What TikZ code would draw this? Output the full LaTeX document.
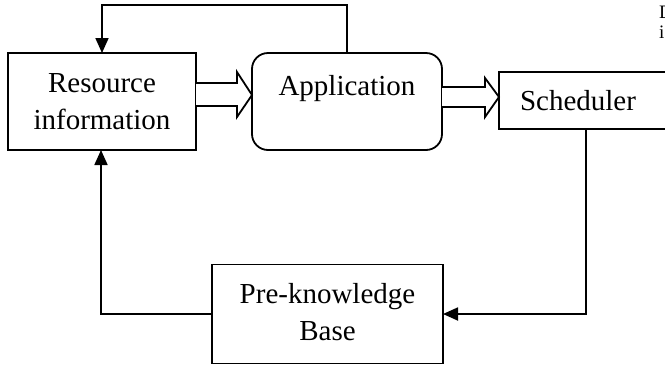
\documentclass[tikz,border=0pt]{standalone}
\usepackage{fontspec}
\setmainfont{Liberation Serif}
\usetikzlibrary{arrows.meta,calc}
\begin{document}
\begin{tikzpicture}[x=1pt,y=-1pt,
  every node/.style={inner sep=0pt,outer sep=0pt},
  box/.style={draw,line width=1.8pt,rectangle},
  rbox/.style={draw,line width=1.8pt,rectangle,rounded corners=16pt},
  lbl/.style={font=\fontsize{29}{37}\selectfont,align=center},
  conn/.style={line width=1.8pt,-{Triangle[length=15pt,width=13pt]}},
  hollow/.style={line width=1.8pt,fill=white,line join=miter}]
\useasboundingbox (0,0) rectangle (665,365);
\clip (0,0) rectangle (665,365);
% nodes
\node[box,minimum width=188pt,minimum height=97pt] (res) at (102,101.5) {};
\node[lbl] (restxt) at (102,101.5) {Resource\\information};
\node[rbox,minimum width=190pt,minimum height=97pt] (app) at (347,101.5) {};
\node[lbl,anchor=base] (apptxt) at (347,95) {Application};
\node[box,minimum width=220pt,minimum height=57pt,anchor=west] (sched) at (499,100.5) {};
\node[lbl,anchor=base] (schedtxt) at (578,110) {Scheduler};
\node[box,minimum width=231pt,minimum height=99pt] (pk) at (327.5,314) {};
\node[lbl] (pktxt) at (327.5,312) {Pre-knowledge\\Base};
\node[font=\fontsize{19}{19}\selectfont,anchor=base west] (d1) at (659,18) {D};
\node[font=\fontsize{19}{19}\selectfont,anchor=base west] (d2) at (659,38) {i};
% top feedback loop
\coordinate (top) at (0,5);
\draw[conn] (app.north) -- (app.north |- top) -| (res.north);
% scheduler to pre-knowledge
\draw[conn] ([xshift=87pt]sched.south west) |- (pk.east);
% pre-knowledge to resource
\draw[conn] (pk.west) -| ([xshift=-1pt]res.south);
% hollow arrows
\draw[hollow] ($(res.east)+(0,-18.5)$) -- ++(41,0) -- ++(0,-11) -- ($(app.west)+(0,-6.5)$)
  -- ($(res.east)+(41,15.5)$) -- ++(0,-11) -- ++(-41,0);
\draw[hollow] ($(app.east)+(0,-14.5)$) -- ++(43,0) -- ++(0,-9) -- ($(sched.west)+(0,-3.5)$)
  -- ($(app.east)+(43,15.5)$) -- ++(0,-10) -- ++(-43,0);
\end{tikzpicture}
\end{document}
